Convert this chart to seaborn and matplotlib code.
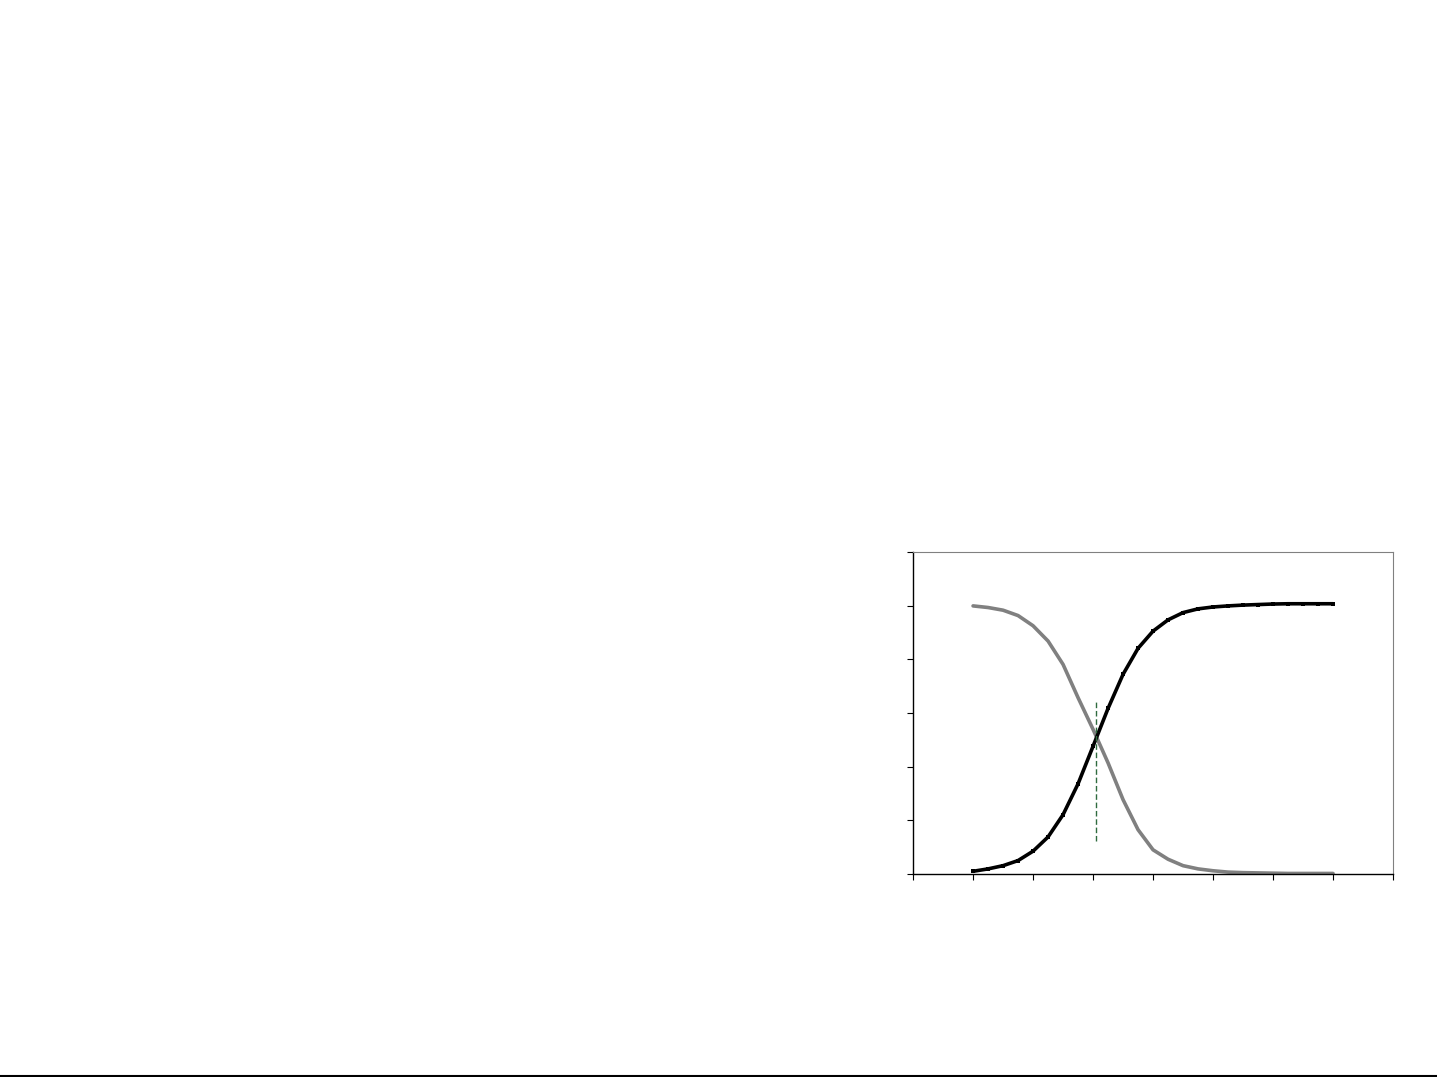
import matplotlib
matplotlib.use("Agg")
import matplotlib.pyplot as plt
import seaborn as sns
import pandas as pd
from matplotlib.lines import Line2D

# x positions of the sampled points
x_vals = [1.00, 1.25, 1.50, 1.75, 2.00, 2.25, 2.50, 2.75, 3.00, 3.25, 3.50, 3.75, 4.00,
          4.25, 4.50, 4.75, 5.00, 5.25, 5.50, 5.75, 6.00, 6.25, 6.50, 6.75, 7.00]

# rising curve (black, with markers)
rising = [0.010, 0.019, 0.031, 0.050, 0.085, 0.138, 0.221, 0.336, 0.476, 0.617, 0.744, 0.841, 0.905,
          0.947, 0.974, 0.988, 0.995, 0.999, 1.002, 1.004, 1.006, 1.007, 1.007, 1.007, 1.007]

# falling curve (grey)
falling = [0.999, 0.993, 0.983, 0.963, 0.925, 0.868, 0.781, 0.657, 0.539, 0.414, 0.277, 0.165, 0.090,
           0.055, 0.031, 0.019, 0.012, 0.007, 0.005, 0.004, 0.003, 0.002, 0.002, 0.002, 0.002]

# dashed marker line
cross_x = 3.056
cross_y = [0.122, 0.650]

df = pd.DataFrame({"x": x_vals, "rising": rising, "falling": falling})

sns.set_style("white")
fig = plt.figure(figsize=(14.37, 10.77), dpi=100)
ax = fig.add_axes([0.6354, 0.1885, 0.334, 0.299])

sns.lineplot(data=df, x="x", y="falling", color="#808080", linewidth=2.6, ax=ax)
sns.lineplot(data=df, x="x", y="rising", color="black", linewidth=2.6,
             marker="s", markersize=3.5, markeredgewidth=0, ax=ax)
ax.plot([cross_x, cross_x], cross_y, color="#2f6b3f", linewidth=1.0,
        linestyle=(0, (4, 2)))

ax.set_xlim(0, 8)
ax.set_ylim(0, 1.2)
ax.set_xticks(range(0, 9))
ax.set_yticks([0, 0.2, 0.4, 0.6, 0.8, 1.0, 1.2])
ax.set_xticklabels([])
ax.set_yticklabels([])
ax.set_xlabel("")
ax.set_ylabel("")
ax.tick_params(axis="both", direction="out", length=4, width=0.8, color="black",
               bottom=True, left=True)
for side in ["left", "bottom"]:
    ax.spines[side].set_color("black")
    ax.spines[side].set_linewidth(1.0)
for side in ["top", "right"]:
    ax.spines[side].set_color("#808080")
    ax.spines[side].set_linewidth(0.8)

# thin rule along the very bottom of the page
fig.add_artist(Line2D([0, 1], [0.0012, 0.0012], color="black", linewidth=1.5,
                      transform=fig.transFigure))

fig.savefig("out.png", dpi=100, facecolor="white")
